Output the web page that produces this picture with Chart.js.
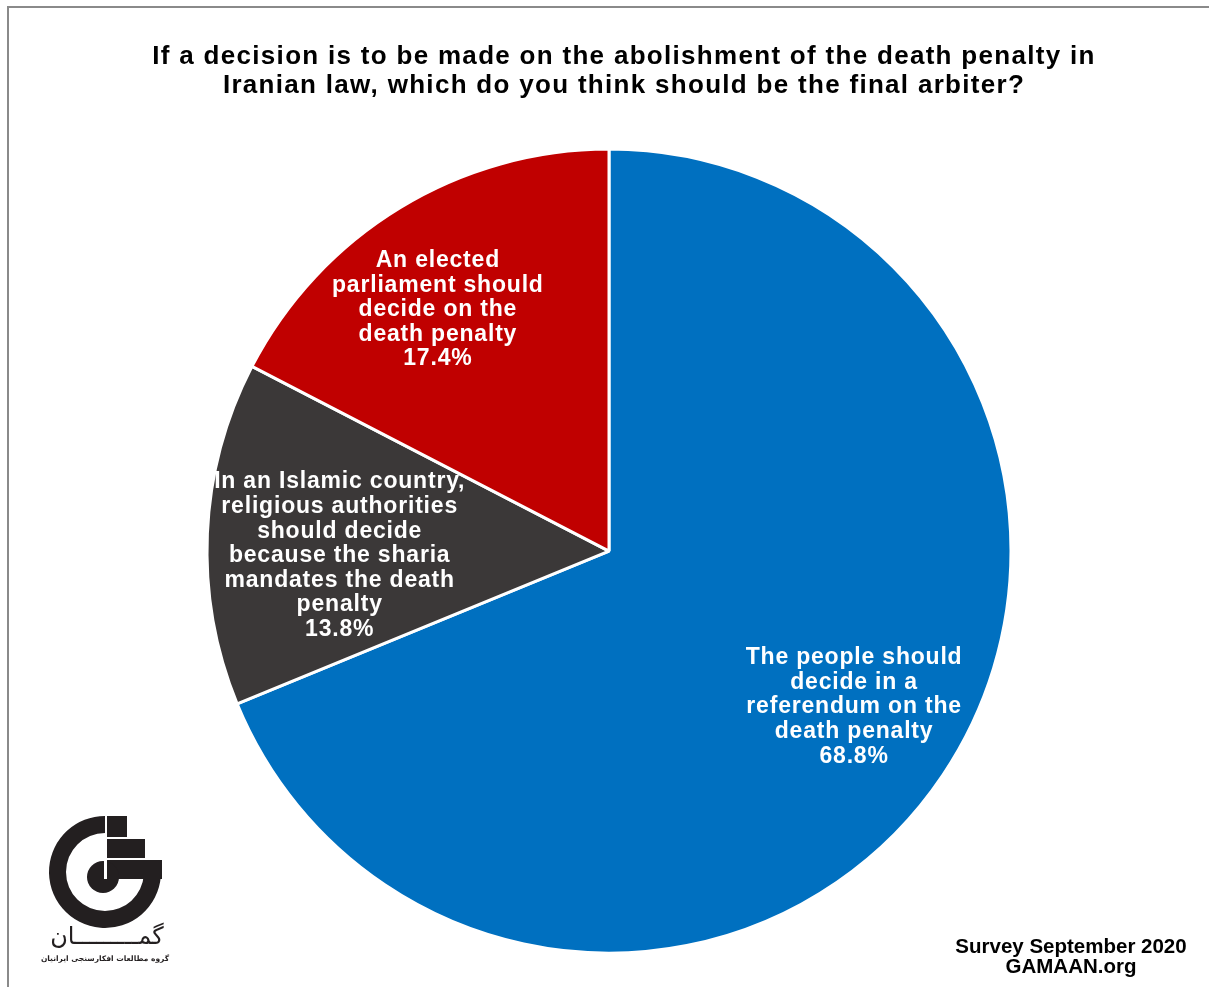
<!DOCTYPE html>
<html>
<head>
<meta charset="utf-8">
<script src="https://cdn.jsdelivr.net/npm/chart.js@4.4.0/dist/chart.umd.min.js"></script>
<style>
  html, body { margin: 0; padding: 0; background: #fff; }
  #wrap { position: relative; width: 1209px; height: 987px; overflow: hidden; }
  #frame { position: absolute; left: 7px; top: 6px; width: 1200px; height: 1000px;
           border-left: 2px solid #8a8a8a; border-top: 2px solid #8a8a8a; border-right: 1px solid #e6e6e6; }
  #grafico { position: absolute; left: 0; top: 0; }
</style>
</head>
<body>
<div id="wrap">
  <div id="frame"></div>
  <canvas id="grafico" width="1209" height="987"></canvas>
</div>
<script>
// respuestas (líneas de cada etiqueta), en orden horario desde arriba
const categories = [
  ["The people should", "decide in a", "referendum on the", "death penalty"],
  ["In an Islamic country,", "religious authorities", "should decide", "because the sharia", "mandates the death", "penalty"],
  ["An elected", "parliament should", "decide on the", "death penalty"]
];
const shares = [68.8, 13.8, 17.4];
const sliceColors = ["#0070C0", "#3B3838", "#C00000"];

const titleLines = [
  "If a decision is to be made on the abolishment of the death penalty in",
  "Iranian law, which do you think should be the final arbiter?"
];
const footerLines = ["Survey September 2020", "GAMAAN.org"];

// colocación de cada etiqueta: fracción del radio y giro en grados
const labelRadius = [0.72, 0.67, 0.74];
const labelTurn = [-1.7, -3.1, -3.8];

// el título va más espaciado y algo corrido a la derecha
const titleStyle = {
  id: "titleStyle",
  beforeDraw(chart) {
    chart.ctx.save();
    chart.ctx.translate(15, 0);
    chart.ctx.letterSpacing = "1.3px";
  },
  beforeDatasetsDraw(chart) {
    chart.ctx.restore();
    chart.ctx.letterSpacing = "0px";
  }
};

const sliceLabels = {
  id: "sliceLabels",
  afterDatasetsDraw(chart) {
    const ctx = chart.ctx;
    const arcs = chart.getDatasetMeta(0).data;
    ctx.save();
    ctx.fillStyle = "#fff";
    ctx.font = "bold 23px 'Liberation Sans', Arial, sans-serif";
    ctx.letterSpacing = "0.8px";
    ctx.textAlign = "center";
    ctx.textBaseline = "middle";
    arcs.forEach((arc, i) => {
      const p = arc.getProps(["x", "y", "startAngle", "endAngle", "outerRadius"], true);
      const mid = (p.startAngle + p.endAngle) / 2 + labelTurn[i] * Math.PI / 180;
      const r = p.outerRadius * labelRadius[i];
      const cx = p.x + Math.cos(mid) * r;
      const cy = p.y + Math.sin(mid) * r + 2;
      const lines = categories[i].concat([shares[i].toFixed(1) + "%"]);
      const lh = 24.6;
      const y0 = cy - (lines.length - 1) * lh / 2;
      lines.forEach((t, k) => ctx.fillText(t, cx, y0 + k * lh));
    });
    ctx.restore();
  }
};

// pie de página y logotipo
const extras = {
  id: "extras",
  afterDraw(chart) {
    const ctx = chart.ctx;
    ctx.save();
    ctx.letterSpacing = "0px";
    ctx.fillStyle = "#000";
    ctx.font = "bold 20.5px 'Liberation Sans', Arial, sans-serif";
    ctx.textAlign = "center";
    ctx.textBaseline = "alphabetic";
    ctx.fillText(footerLines[0], 1071, 953);
    ctx.fillText(footerLines[1], 1071, 973);

    // logo
    const lx = 105, ly = 872;
    ctx.fillStyle = "#231f20";
    ctx.beginPath();
    ctx.arc(lx, ly, 56, 0.08, 1.5 * Math.PI, false);
    ctx.arc(lx, ly, 39, 1.5 * Math.PI, 0.08, true);
    ctx.closePath();
    ctx.fill();
    ctx.fillRect(107, 816, 20, 21);
    ctx.fillRect(107, 839, 38, 19);
    ctx.fillRect(107, 860, 55, 19);
    ctx.beginPath();
    ctx.arc(103, 877, 16, 0, 2 * Math.PI);
    ctx.fill();
    ctx.fillStyle = "#fff";
    ctx.fillRect(104, 860, 3, 19);
    ctx.fillStyle = "#231f20";
    ctx.font = "24px 'DejaVu Sans', sans-serif";
    ctx.fillText("گمـــــــــان", 107, 944);
    ctx.font = "bold 7.5px 'DejaVu Sans', sans-serif";
    ctx.fillText("گروه مطالعات افکارسنجی ایرانیان", 105, 961);
    ctx.restore();
  }
};

new Chart(document.getElementById("grafico"), {
  type: "pie",
  data: {
    labels: categories.map(c => c.join(" ")),
    datasets: [{
      data: shares,
      backgroundColor: sliceColors,
      borderColor: "#fff",
      borderWidth: 3
    }]
  },
  options: {
    responsive: false,
    animation: false,
    radius: 402,
    layout: { padding: { left: 9, right: 0, top: 0, bottom: 0 } },
    plugins: {
      title: {
        display: true,
        text: titleLines,
        color: "#000",
        font: { size: 26, weight: "bold", family: "'Liberation Sans', Arial, sans-serif", lineHeight: 1.12 },
        padding: { top: 42, bottom: 15 }
      },
      legend: { display: false },
      tooltip: { enabled: false }
    }
  },
  plugins: [titleStyle, sliceLabels, extras]
});
</script>
</body>
</html>
